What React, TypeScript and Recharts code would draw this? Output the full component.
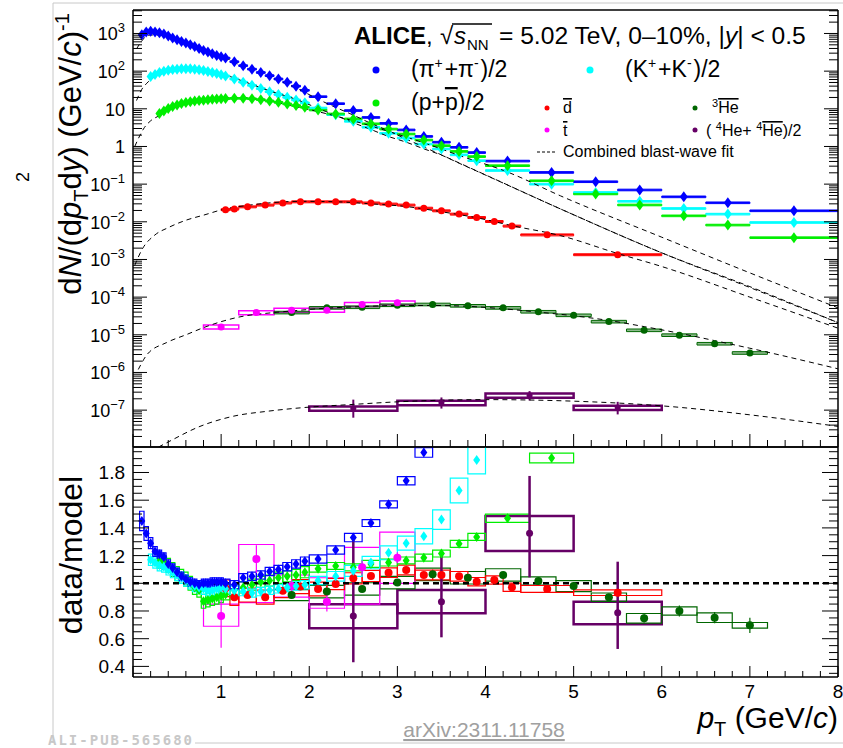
import React from 'react';
import { ComposedChart, Scatter, Line, XAxis, YAxis, ErrorBar, ReferenceArea, ReferenceLine } from 'recharts';

const FONT = '"Liberation Sans", Arial, Helvetica, sans-serif';
const C_PI = '#0000ff';
const C_K = '#00ffff';
const C_P = '#00ee00';
const C_D = '#ff0000';
const C_T = '#ff00ff';
const C_HE3 = '#006600';
const C_HE4 = '#660066';

// ---------------- spectra (top panel) ----------------
const piPt = [0.10,0.15,0.20,0.25,0.30,0.35,0.40,0.45,0.50,0.55,0.60,0.65,0.70,0.75,0.80,0.85,0.90,0.95,1.00,1.05,1.15,1.25,1.35,1.45,1.55,1.65,1.75,1.85,1.95,2.1,2.3,2.5,2.7,2.9,3.1,3.3,3.5,3.7,3.9,4.25,4.75,5.25,5.75,6.25,6.75,7.5];
const piYield = [920,1100,1140,1100,1040,970,860,760,680,615,560,500,450,400,355,320,290,262,240,222,178,140,113,92,76,62,51,40,31,21,13.7,9.0,5.9,4.1,2.75,1.85,1.3,0.95,0.69,0.41,0.205,0.116,0.07,0.046,0.032,0.0196];
const piRatio = [1.45,1.36,1.29,1.23,1.21,1.19,1.14,1.11,1.08,1.05,1.03,1.01,1.00,0.99,1.00,1.00,1.01,1.01,1.01,1.00,0.99,1.04,1.05,1.06,1.085,1.10,1.12,1.14,1.16,1.175,1.24,1.33,1.435,1.57,1.74,1.945];
const piRatioSys = [0.07,0.05,0.04,0.035,0.03,0.03,0.03,0.03,0.03,0.03,0.03,0.03,0.03,0.03,0.03,0.03,0.03,0.03,0.03,0.03,0.03,0.03,0.03,0.03,0.03,0.03,0.03,0.03,0.03,0.03,0.03,0.03,0.025,0.025,0.03,0.035];

const kPt = [0.20,0.25,0.30,0.35,0.40,0.45,0.50,0.55,0.60,0.65,0.70,0.75,0.80,0.85,0.90,0.95,1.00,1.05,1.15,1.25,1.35,1.45,1.55,1.65,1.75,1.85,1.95,2.1,2.3,2.5,2.7,2.9,3.1,3.3,3.5,3.7,3.9,4.25,4.75,5.25,5.75,6.25,6.75,7.5];
const kYield = [72,82,92,100,106,110,113,115,116,115,113,109,104,98,92,86,80,74,62,51,42,34.5,28.5,24,20.2,17.2,14.4,10.5,7.0,4.65,3.24,2.24,1.68,1.16,0.86,0.6,0.42,0.23,0.1,0.06,0.035,0.0226,0.016,0.0096];
const kRatio = [1.17,1.15,1.13,1.12,1.10,1.08,1.06,1.04,1.02,1.00,0.98,0.97,0.96,0.95,0.95,0.96,0.97,0.96,0.95,0.94,0.93,0.94,0.95,0.96,0.97,0.98,0.99,1.02,1.05,1.09,1.15,1.22,1.29,1.34,1.46,1.67,1.89];
const kRatioSys = [0.04,0.04,0.04,0.04,0.04,0.04,0.04,0.04,0.04,0.04,0.04,0.04,0.04,0.04,0.04,0.04,0.04,0.03,0.03,0.03,0.03,0.03,0.03,0.03,0.03,0.03,0.03,0.03,0.035,0.04,0.045,0.05,0.05,0.055,0.07,0.09,0.1];

const pPt = [0.30,0.35,0.40,0.45,0.50,0.55,0.60,0.65,0.70,0.75,0.80,0.85,0.90,0.95,1.00,1.05,1.15,1.25,1.35,1.45,1.55,1.65,1.75,1.85,1.95,2.1,2.3,2.5,2.7,2.9,3.1,3.3,3.5,3.7,3.9,4.25,4.75,5.25,5.75,6.25,6.75,7.5];
const pYield = [7.5,8.7,10.2,11.5,12.7,13.8,14.7,15.4,16.0,16.5,17.0,17.4,17.8,18.1,18.4,18.7,19.0,19.0,18.5,17.5,16.1,14.9,13.5,12.2,11.0,9.3,7.3,5.4,4.0,2.9,2.14,1.48,1.05,0.74,0.54,0.31,0.123,0.055,0.028,0.0144,0.0082,0.0038];
const pRatio = [1.16,1.15,1.13,1.10,1.07,1.05,1.03,1.00,0.97,0.95,0.87,0.88,0.89,0.90,0.91,0.92,0.95,0.97,0.99,1.01,1.02,1.04,1.05,1.06,1.08,1.105,1.125,1.115,1.14,1.15,1.165,1.185,1.215,1.285,1.335,1.47,1.905];
const pRatioSys = [0.05,0.05,0.05,0.05,0.05,0.05,0.05,0.05,0.05,0.05,0.05,0.05,0.05,0.05,0.05,0.04,0.04,0.04,0.04,0.04,0.04,0.04,0.04,0.04,0.04,0.025,0.025,0.025,0.025,0.025,0.025,0.025,0.025,0.025,0.025,0.03,0.035];

const dPt = [1.05,1.15,1.3,1.5,1.7,1.9,2.1,2.3,2.5,2.7,2.9,3.1,3.3,3.5,3.7,3.9,4.1,4.3,4.7,5.5];
const dHalf = [0.05,0.05,0.1,0.1,0.1,0.1,0.1,0.1,0.1,0.1,0.1,0.1,0.1,0.1,0.1,0.1,0.1,0.1,0.3,0.5];
const dYield = [0.021,0.0218,0.025,0.0278,0.0316,0.034,0.034,0.034,0.034,0.0316,0.0296,0.0278,0.023,0.0196,0.016,0.013,0.0102,0.0077,0.0045,0.00134];
const dRatio = [0.964,0.90,0.915,0.90,0.947,0.976,0.959,0.995,1.036,1.053,1.077,1.096,1.06,1.06,1.05,1.012,1.024,0.971,0.959,0.932];
const dRatioSys = [0.06,0.06,0.05,0.05,0.05,0.05,0.05,0.04,0.04,0.04,0.035,0.035,0.035,0.035,0.035,0.03,0.03,0.03,0.025,0.02];

const tPt = [1.0,1.4,1.8,2.2,2.6,3.0];
const tYield = [1.62e-5,3.9e-5,4.5e-5,4.5e-5,6.4e-5,7.1e-5];
const tRatio = [0.764,1.175,0.98,0.867,1.115,1.185];
const tRatioStat = [0.23,0.1,0.05,0.07,0.05,0.04];
const tBoxLo = [0.69,0.86,0.9,0.82,0.85,1.0];
const tBoxHi = [0.85,1.28,1.06,1.04,1.26,1.37];

const he3Pt = [1.8,2.2,2.6,3.0,3.4,3.8,4.2,4.6,5.0,5.4,5.8,6.2,6.6,7.0];
const he3Yield = [3.9e-5,5.2e-5,5.4e-5,6.1e-5,6.4e-5,5.9e-5,5.2e-5,4.1e-5,3.3e-5,2.24e-5,1.32e-5,9.8e-6,5.8e-6,3.3e-6];
const he3Ratio = [0.915,0.94,0.959,1.005,1.065,1.04,1.06,1.017,0.98,0.90,0.747,0.80,0.752,0.697];
const he3RatioSys = [0.04,0.045,0.045,0.045,0.045,0.045,0.045,0.03,0.04,0.03,0.035,0.03,0.035,0.02];
const he3RatioStat = [0.015,0.015,0.015,0.015,0.015,0.015,0.02,0.02,0.025,0.025,0.03,0.04,0.04,0.055];

const he4Pt = [2.5,3.5,4.5,5.5];
const he4Yield = [1.11e-7,1.56e-7,2.46e-7,1.15e-7];
const he4YieldLo = [6.3e-8,1.1e-7,1.8e-7,7.7e-8];
const he4YieldHi = [1.9e-7,2.17e-7,3.2e-7,1.66e-7];
const he4Ratio = [0.764,0.867,1.361,0.788];
const he4RatioLo = [0.43,0.61,1.043,0.526];
const he4RatioHi = [1.33,1.23,1.775,1.156];
const he4BoxLo = [0.675,0.783,1.233,0.704];
const he4BoxHi = [0.848,0.952,1.486,0.867];

// ---------------- combined blast-wave fit curves ----------------
const piFitPt = [0.04,0.1,0.17,0.25,0.34,0.45,0.57,0.68,0.8,0.91,1.06,1.25,1.55,1.86,2.1,2.3,2.5,2.7,2.9,3.1,3.3,4.0,4.85,6.0,7.0,8.0];
const piFit = [390,634,900,915,870,695,567,460,353,288,220,131,70,35,18,10.9,6.8,4.1,2.6,1.57,0.97,0.176,0.022,0.0015,1.8e-4,2.1e-5];
const kFitPt = [0.04,0.1,0.15,0.21,0.3,0.42,0.55,0.68,0.8,0.91,1.02,1.25,1.55,1.86,2.1,2.3,2.5,2.7,2.9,3.1,3.3,3.5,3.7,3.9,4.85,6.0,7.0,8.0];
const kFit = [16.6,33,46,62,81,96,108,114,108,97,83,54,30,17.5,10.3,6.67,4.27,2.82,1.84,1.30,0.866,0.59,0.36,0.222,0.022,0.0015,1.9e-4,2.1e-5];
const pFitPt = [0.02,0.13,0.2,0.3,0.42,0.53,0.76,0.98,1.21,1.46,1.8,2.1,2.5,2.9,3.3,3.7,4.25,4.85,6.0,7.0,8.0];
const pFit = [1.0,3.2,4.8,6.6,9.6,12.3,16.5,19.5,19.8,17.5,12.0,8.4,4.8,2.5,1.25,0.58,0.21,0.049,0.0039,4.4e-4,5.2e-5];
const dFitPt = [0.02,0.1,0.25,0.4,0.6,0.8,1.04,1.3,1.5,1.9,2.3,2.7,3.1,3.5,3.9,4.3,4.85,5.5,6.0,7.0,8.0];
const dFit = [7e-4,1.8e-3,4.5e-3,7e-3,0.011,0.015,0.0218,0.0273,0.031,0.035,0.034,0.030,0.0254,0.0185,0.0128,0.0079,0.0043,0.00144,6.5e-4,1.0e-4,1.5e-5];
const he3FitPt = [0.06,0.16,0.38,0.61,0.8,1.2,1.6,1.8,2.2,2.6,3.0,3.4,3.8,4.2,4.6,5.0,5.4,5.8,6.2,6.6,7.0,8.0];
const he3Fit = [1.2e-6,3e-6,6.2e-6,1.02e-5,1.55e-5,2.95e-5,3.9e-5,4.3e-5,5.1e-5,5.6e-5,6.0e-5,6.0e-5,5.7e-5,4.9e-5,4.0e-5,3.2e-5,2.4e-5,1.65e-5,1.1e-5,7e-6,4.4e-6,1.25e-6];
const he4FitPt = [0.29,0.38,0.76,1.14,1.52,1.9,2.5,3.0,4.0,5.0,6.0,7.0,8.0];
const he4Fit = [1.05e-8,1.35e-8,3.7e-8,6.9e-8,9.3e-8,1.15e-7,1.42e-7,1.66e-7,1.9e-7,1.73e-7,1.3e-7,7.5e-8,3.7e-8];

// ---------------- axes ----------------
const TOP_DOMAIN: [number, number] = [1.05e-8, 4.2e3];
const RATIO_DOMAIN: [number, number] = [0.3235, 1.984];
const xTicks = Array.from({ length: 41 }, (_, i) => Math.round(i * 2) / 10);
const logTicks: number[] = [];
for (let e = -8; e <= 3; e++) for (let m = 1; m <= 9; m++) { const v = m * Math.pow(10, e); if (v >= TOP_DOMAIN[0] && v <= TOP_DOMAIN[1]) logTicks.push(v); }
const ratioTicks = Array.from({ length: 33 }, (_, i) => Math.round(35 + i * 5) / 100);

// bin half-widths of the light-flavour hadron bins
const lfHalf = (pt: number) => (pt <= 1.0 ? 0.025 : pt < 2 ? 0.05 : pt < 4 ? 0.1 : pt < 7 ? 0.25 : 0.5);

const AX = { stroke: '#000', strokeWidth: 1.5 };

const isDecade = (v: number) => { const e = Math.round(Math.log10(v)); return Math.abs(v / Math.pow(10, e) - 1) < 1e-6; };
const isMajorR = (v: number) => Math.abs(v * 5 - Math.round(v * 5)) < 1e-6;
const isInt = (v: number) => Math.abs(v - Math.round(v)) < 1e-6;

function LeftLogTick(p: any) {
  const { x, y, payload } = p;
  const v = payload.value as number;
  const major = isDecade(v);
  const e = Math.round(Math.log10(v));
  const len = major ? 14 : 9;
  let label: any = null;
  if (major && e >= -7) {
    const tx = x - 8, ty = y + 7;
    if (e === 0) label = <text x={tx} y={ty} textAnchor="end" fontSize={18} fontFamily={FONT}>1</text>;
    else if (e === 1) label = <text x={tx} y={ty} textAnchor="end" fontSize={18} fontFamily={FONT}>10</text>;
    else label = (
      <text x={tx} y={ty} textAnchor="end" fontSize={18} fontFamily={FONT}>10<tspan dy={-8} fontSize={13}>{e < 0 ? '\u2212' + (-e) : String(e)}</tspan></text>
    );
  }
  return <g><line x1={x} y1={y} x2={x + len} y2={y} stroke="#000" strokeWidth={1} />{label}</g>;
}
function RightLogTick(p: any) {
  const { x, y, payload } = p;
  const len = isDecade(payload.value) ? 14 : 9;
  return <line x1={x} y1={y} x2={x - len} y2={y} stroke="#000" strokeWidth={1} />;
}
function LeftRatioTick(p: any) {
  const { x, y, payload } = p;
  const v = payload.value as number;
  const major = isMajorR(v);
  return (
    <g>
      <line x1={x} y1={y} x2={x + (major ? 16 : 9)} y2={y} stroke="#000" strokeWidth={1} />
      {major ? <text x={x - 8} y={y + 7} textAnchor="end" fontSize={19} fontFamily={FONT}>{Math.abs(v - 1) < 1e-6 ? '1' : v.toFixed(1)}</text> : null}
    </g>
  );
}
function RightRatioTick(p: any) {
  const { x, y, payload } = p;
  return <line x1={x} y1={y} x2={x - (isMajorR(payload.value) ? 16 : 9)} y2={y} stroke="#000" strokeWidth={1} />;
}
function makeBottomTick(major: number, minor: number, labels: boolean) {
  return (p: any) => {
    const { x, y, payload } = p;
    const v = payload.value as number;
    const mj = isInt(v);
    return (
      <g>
        <line x1={x} y1={y} x2={x} y2={y - (mj ? major : minor)} stroke="#000" strokeWidth={1} />
        {labels && mj && v > 0 ? <text x={x} y={y + 21} textAnchor="middle" fontSize={19} fontFamily={FONT}>{String(Math.round(v))}</text> : null}
      </g>
    );
  };
}
function makeTopTick(major: number, minor: number) {
  return (p: any) => {
    const { x, y, payload } = p;
    const mj = isInt(payload.value);
    return <line x1={x} y1={y} x2={x} y2={y + (mj ? major : minor)} stroke="#000" strokeWidth={1} />;
  };
}

const diamond = (color: string, hw: number, hh: number) => (props: any) => {
  const { cx, cy } = props;
  if (cx == null || cy == null || !isFinite(cx) || !isFinite(cy)) return <g />;
  return <path d={`M${cx},${cy - hh}L${cx + hw},${cy}L${cx},${cy + hh}L${cx - hw},${cy}Z`} fill={color} />;
};
const dot = (color: string, r: number) => (props: any) => {
  const { cx, cy } = props;
  if (cx == null || cy == null || !isFinite(cx) || !isFinite(cy)) return <g />;
  return <circle cx={cx} cy={cy} r={r} fill={color} />;
};

const toLine = (xs: number[], ys: number[]) => xs.map((x, i) => ({ x, y: ys[i] }));

// top-panel datasets
const piTop = piPt.map((x, i) => ({ x, y: piYield[i], ex: lfHalf(x) }));
const kTop = kPt.map((x, i) => ({ x, y: kYield[i], ex: lfHalf(x) }));
const pTop = pPt.map((x, i) => ({ x, y: pYield[i], ex: lfHalf(x) }));
const dTop = dPt.map((x, i) => ({ x, y: dYield[i], ex: dHalf[i] }));
const tTop = tPt.map((x, i) => ({ x, y: tYield[i], ey: tYield[i] * 0.15 }));
const he3Top = he3Pt.map((x, i) => ({ x, y: he3Yield[i] }));
const he4Top = he4Pt.map((x, i) => ({ x, y: he4Yield[i], ey: [he4Yield[i] - he4YieldLo[i], he4YieldHi[i] - he4Yield[i]] }));

// ratio-panel datasets
const piR = piRatio.map((r, i) => ({ x: piPt[i], y: r }));
const kR = kRatio.map((r, i) => ({ x: kPt[i], y: r }));
const pR = pRatio.map((r, i) => ({ x: pPt[i], y: r }));
const dR = dRatio.map((r, i) => ({ x: dPt[i], y: r, ey: 0.012 }));
const tR = tRatio.map((r, i) => ({ x: tPt[i], y: r, ey: tRatioStat[i] }));
const he3R = he3Ratio.map((r, i) => ({ x: he3Pt[i], y: r, ey: he3RatioStat[i] }));
const he4R = he4Ratio.map((r, i) => ({ x: he4Pt[i], y: r, ey: [r - he4RatioLo[i], he4RatioHi[i] - r] }));

type Box = { x1: number; x2: number; y1: number; y2: number; stroke: string; sw: number; fill?: string; fo?: number };
const topBoxes: Box[] = [
  ...piPt.map((x, i) => ({ x1: x - lfHalf(x), x2: x + lfHalf(x), y1: piYield[i] * 0.95, y2: piYield[i] * 1.05, stroke: C_PI, sw: 1 })),
  ...kPt.map((x, i) => ({ x1: x - lfHalf(x), x2: x + lfHalf(x), y1: kYield[i] * 0.95, y2: kYield[i] * 1.05, stroke: C_K, sw: 1 })),
  ...pPt.map((x, i) => ({ x1: x - lfHalf(x), x2: x + lfHalf(x), y1: pYield[i] * 0.95, y2: pYield[i] * 1.05, stroke: C_P, sw: 1 })),
  ...dPt.map((x, i) => ({ x1: x - dHalf[i], x2: x + dHalf[i], y1: dYield[i] * 0.94, y2: dYield[i] * 1.06, stroke: C_D, sw: 1 })),
  ...tPt.map((x, i) => ({ x1: x - 0.2, x2: x + 0.2, y1: tYield[i] * 0.88, y2: tYield[i] * 1.12, stroke: C_T, sw: 1.5 })),
  ...he3Pt.map((x, i) => ({ x1: x - 0.2, x2: x + 0.2, y1: he3Yield[i] * 0.92, y2: he3Yield[i] * 1.08, stroke: C_HE3, sw: 1, fill: C_HE3, fo: 0.45 })),
  ...he4Pt.map((x, i) => ({ x1: x - 0.5, x2: x + 0.5, y1: he4Yield[i] * 0.87, y2: he4Yield[i] * 1.13, stroke: C_HE4, sw: 2.5 })),
];
const ratioBoxes: Box[] = [
  ...he4Pt.map((x, i) => ({ x1: x - 0.5, x2: x + 0.5, y1: he4BoxLo[i], y2: he4BoxHi[i], stroke: C_HE4, sw: 2.5 })),
  ...he3Pt.map((x, i) => ({ x1: x - 0.2, x2: x + 0.2, y1: he3Ratio[i] - he3RatioSys[i], y2: he3Ratio[i] + he3RatioSys[i], stroke: C_HE3, sw: 1.2 })),
  ...tPt.map((x, i) => ({ x1: x - 0.2, x2: x + 0.2, y1: tBoxLo[i], y2: tBoxHi[i], stroke: C_T, sw: 1.2 })),
  ...dPt.map((x, i) => ({ x1: x - dHalf[i], x2: x + dHalf[i], y1: dRatio[i] - dRatioSys[i], y2: dRatio[i] + dRatioSys[i], stroke: C_D, sw: 1.2 })),
  ...pRatio.map((r, i) => ({ x1: pPt[i] - lfHalf(pPt[i]), x2: pPt[i] + lfHalf(pPt[i]), y1: r - pRatioSys[i], y2: r + pRatioSys[i], stroke: C_P, sw: 1.2 })),
  ...kRatio.map((r, i) => ({ x1: kPt[i] - lfHalf(kPt[i]), x2: kPt[i] + lfHalf(kPt[i]), y1: r - kRatioSys[i], y2: r + kRatioSys[i], stroke: C_K, sw: 1.2 })),
  ...piRatio.map((r, i) => ({ x1: piPt[i] - lfHalf(piPt[i]), x2: piPt[i] + lfHalf(piPt[i]), y1: r - piRatioSys[i], y2: r + piRatioSys[i], stroke: C_PI, sw: 1.2 })),
];

const renderBoxes = (boxes: Box[], prefix: string) =>
  boxes.map((b, i) => (
    <ReferenceArea key={prefix + i} x1={b.x1} x2={b.x2} y1={b.y1} y2={b.y2} ifOverflow="hidden"
      stroke={b.stroke} strokeWidth={b.sw} fill={b.fill || 'none'} fillOpacity={b.fo ?? 0} />
  ));

const fits = [
  toLine(piFitPt, piFit), toLine(kFitPt, kFit), toLine(pFitPt, pFit),
  toLine(dFitPt, dFit), toLine(he3FitPt, he3Fit), toLine(he4FitPt, he4Fit),
];

function TopChart() {
  return (
    <ComposedChart width={843} height={448} margin={{ top: 9, right: 4, bottom: 0, left: 132 }}>
      <XAxis dataKey="x" type="number" domain={[0, 8]} ticks={xTicks} interval={0} allowDataOverflow height={1}
        tickSize={0} tickMargin={0} tickLine={false} axisLine={AX} tick={makeBottomTick(13, 7, false)} />
      <XAxis xAxisId="t" orientation="top" type="number" domain={[0, 8]} ticks={xTicks} interval={0} allowDataOverflow height={1}
        tickSize={0} tickMargin={0} tickLine={false} axisLine={AX} tick={makeTopTick(13, 7)} />
      <YAxis dataKey="y" scale="log" type="number" domain={TOP_DOMAIN} ticks={logTicks} interval={0} allowDataOverflow width={1}
        tickSize={0} tickMargin={0} tickLine={false} axisLine={AX} tick={LeftLogTick} />
      <YAxis yAxisId="r" orientation="right" scale="log" type="number" domain={TOP_DOMAIN} ticks={logTicks} interval={0} allowDataOverflow width={1}
        tickSize={0} tickMargin={0} tickLine={false} axisLine={AX} tick={RightLogTick} />
      {renderBoxes(topBoxes, 'tb')}
      <Scatter data={piTop} dataKey="y" shape={diamond(C_PI, 4, 5.5)} isAnimationActive={false}>
        <ErrorBar dataKey="ex" direction="x" width={0} stroke={C_PI} strokeWidth={1.5} />
      </Scatter>
      <Scatter data={kTop} dataKey="y" shape={diamond(C_K, 4, 5.5)} isAnimationActive={false}>
        <ErrorBar dataKey="ex" direction="x" width={0} stroke={C_K} strokeWidth={1.5} />
      </Scatter>
      <Scatter data={pTop} dataKey="y" shape={diamond(C_P, 4, 5.5)} isAnimationActive={false}>
        <ErrorBar dataKey="ex" direction="x" width={0} stroke={C_P} strokeWidth={1.5} />
      </Scatter>
      <Scatter data={dTop} dataKey="y" shape={dot(C_D, 3.5)} isAnimationActive={false}>
        <ErrorBar dataKey="ex" direction="x" width={0} stroke={C_D} strokeWidth={1.5} />
      </Scatter>
      <Scatter data={he3Top} dataKey="y" shape={dot(C_HE3, 3.5)} isAnimationActive={false} />
      <Scatter data={tTop} dataKey="y" shape={dot(C_T, 3.5)} isAnimationActive={false}>
        <ErrorBar dataKey="ey" direction="y" width={0} stroke={C_T} strokeWidth={1.2} />
      </Scatter>
      <Scatter data={he4Top} dataKey="y" shape={dot(C_HE4, 3)} isAnimationActive={false}>
        <ErrorBar dataKey="ey" direction="y" width={0} stroke={C_HE4} strokeWidth={2} />
      </Scatter>
      {fits.map((f, i) => (
        <Line key={'f' + i} data={f} dataKey="y" type="monotone" stroke="#000" strokeWidth={1} strokeDasharray="5 4"
          dot={false} activeDot={false} isAnimationActive={false} />
      ))}
    </ComposedChart>
  );
}

function RatioChart() {
  return (
    <ComposedChart width={843} height={302} margin={{ top: 0, right: 4, bottom: 70, left: 132 }}>
      <XAxis dataKey="x" type="number" domain={[0, 8]} ticks={xTicks} interval={0} allowDataOverflow height={1}
        tickSize={0} tickMargin={0} tickLine={false} axisLine={AX} tick={makeBottomTick(11, 6, true)} />
      <XAxis xAxisId="t" orientation="top" type="number" domain={[0, 8]} ticks={xTicks} interval={0} allowDataOverflow height={1}
        tickSize={0} tickMargin={0} tickLine={false} axisLine={AX} tick={makeTopTick(11, 6)} />
      <YAxis dataKey="y" type="number" domain={RATIO_DOMAIN} ticks={ratioTicks} interval={0} allowDataOverflow width={1}
        tickSize={0} tickMargin={0} tickLine={false} axisLine={AX} tick={LeftRatioTick} />
      <YAxis yAxisId="r" orientation="right" type="number" domain={RATIO_DOMAIN} ticks={ratioTicks} interval={0} allowDataOverflow width={1}
        tickSize={0} tickMargin={0} tickLine={false} axisLine={AX} tick={RightRatioTick} />
      {renderBoxes(ratioBoxes, 'rb')}
      <ReferenceLine y={1} stroke="#000" strokeWidth={2.5} strokeDasharray="6 4" />
      <Scatter data={he4R} dataKey="y" shape={dot(C_HE4, 3.5)} isAnimationActive={false}>
        <ErrorBar dataKey="ey" direction="y" width={0} stroke={C_HE4} strokeWidth={2.5} />
      </Scatter>
      <Scatter data={tR} dataKey="y" shape={dot(C_T, 4)} isAnimationActive={false}>
        <ErrorBar dataKey="ey" direction="y" width={0} stroke={C_T} strokeWidth={1.2} />
      </Scatter>
      <Scatter data={he3R} dataKey="y" shape={dot(C_HE3, 4)} isAnimationActive={false}>
        <ErrorBar dataKey="ey" direction="y" width={0} stroke={C_HE3} strokeWidth={1.2} />
      </Scatter>
      <Scatter data={dR} dataKey="y" shape={dot(C_D, 4)} isAnimationActive={false} />
      <Scatter data={pR} dataKey="y" shape={diamond(C_P, 3.5, 5)} isAnimationActive={false} />
      <Scatter data={kR} dataKey="y" shape={diamond(C_K, 3.5, 5)} isAnimationActive={false} />
      <Scatter data={piR} dataKey="y" shape={diamond(C_PI, 3.5, 5)} isAnimationActive={false} />
    </ComposedChart>
  );
}

const Sup = ({ children, s = 14, d = 9 }: any) => (<><tspan dy={-d} fontSize={s}>{children}</tspan><tspan dy={d}>{'\u200A'}</tspan></>);

function Overlay() {
  return (
    <svg width={843} height={748} style={{ position: 'absolute', left: 0, top: 0, pointerEvents: 'none' }} fontFamily={FONT}>
      {/* page frame */}
      <line x1={53} y1={3} x2={843} y2={3} stroke="#c8c8c8" strokeWidth={1} />
      <line x1={53} y1={3} x2={53} y2={743} stroke="#c8c8c8" strokeWidth={1} />
      <line x1={195} y1={743} x2={843} y2={743} stroke="#c8c8c8" strokeWidth={1} />
      <text x={48} y={745} fontSize={14} fontWeight="bold" fill="#c8c8c8" letterSpacing={2} fontFamily='"DejaVu Sans Mono", monospace'>ALI-PUB-565680</text>
      <text x={484} y={737} fontSize={21} fill="#a0a0a0" textAnchor="middle" style={{ textDecoration: 'underline' }}>arXiv:2311.11758</text>

      {/* axis titles */}
      <text transform="translate(81,154) rotate(-90)" textAnchor="middle" fontSize={31}>
        d<tspan fontStyle="italic">N</tspan>/(d<tspan fontStyle="italic">p</tspan><tspan dy={7} fontSize={20}>T</tspan><tspan dy={-7}>d</tspan><tspan fontStyle="italic">y</tspan>) (GeV/<tspan fontStyle="italic">c</tspan>)<tspan dy={-12} fontSize={20}>-1</tspan>
      </text>
      <text transform="translate(29,177) rotate(-90)" textAnchor="middle" fontSize={18}>2</text>
      <text transform="translate(82,555) rotate(-90)" textAnchor="middle" fontSize={32}>data/model</text>
      <text x={838} y={728} textAnchor="end" fontSize={30}>
        <tspan fontStyle="italic">p</tspan><tspan dy={8} fontSize={20}>T</tspan><tspan dy={-8}> (GeV/</tspan><tspan fontStyle="italic">c</tspan>)
      </text>

      {/* header */}
      <text x={354} y={44} fontSize={24} fontWeight="bold">ALICE</text>
      <text x={426} y={44} fontSize={24}>,</text>
      <text x={440} y={44} fontSize={24}>{'\u221A'}</text>
      <line x1={452} y1={24} x2={492} y2={24} stroke="#000" strokeWidth={1.3} />
      <text x={454} y={44} fontSize={24} fontStyle="italic">s</text>
      <text x={467} y={50} fontSize={15}>NN</text>
      <text x={499} y={44} fontSize={24.6}>= 5.02 TeV, 0–10%, |<tspan fontStyle="italic">y</tspan>| &lt; 0.5</text>

      {/* big legend */}
      <circle cx={376} cy={70} r={3.5} fill={C_PI} />
      <text x={411} y={77} fontSize={23}>(π<Sup>+</Sup>+π<Sup>-</Sup>)/2</text>
      <circle cx={590} cy={70} r={3.5} fill={C_K} />
      <text x={625} y={77} fontSize={23}>(K<Sup>+</Sup>+K<Sup>-</Sup>)/2</text>
      <circle cx={376} cy={103} r={3.5} fill={C_P} />
      <text x={411} y={110} fontSize={23}>(p+<tspan style={{ textDecoration: 'overline' }}>p</tspan>)/2</text>

      {/* small legend */}
      <circle cx={547} cy={108} r={2.5} fill={C_D} />
      <text x={563} y={113} fontSize={16}><tspan style={{ textDecoration: 'overline' }}>d</tspan></text>
      <circle cx={695} cy={108} r={2.5} fill={C_HE3} />
      <text x={712} y={113} fontSize={16}><tspan dy={-6} fontSize={11}>3</tspan><tspan dy={6} style={{ textDecoration: 'overline' }}>He</tspan></text>
      <circle cx={547} cy={130} r={2.5} fill={C_T} />
      <text x={563} y={136} fontSize={16}><tspan style={{ textDecoration: 'overline' }}>t</tspan></text>
      <circle cx={695} cy={130} r={2.5} fill={C_HE4} />
      <text x={706} y={136} fontSize={16}>( <tspan dy={-6} fontSize={11}>4</tspan><tspan dy={6}>He+ </tspan><tspan dy={-6} fontSize={11}>4</tspan><tspan dy={6} style={{ textDecoration: 'overline' }}>He</tspan>)/2</text>
      <line x1={537} y1={152} x2={557} y2={152} stroke="#000" strokeWidth={1} strokeDasharray="3 2" />
      <text x={563} y={157} fontSize={16}>Combined blast-wave fit</text>
    </svg>
  );
}

export default function App() {
  return (
    <div style={{ position: 'absolute', left: 0, top: 0, width: 843, height: 748, background: '#fff', overflow: 'hidden', fontFamily: FONT }}>
      <div style={{ position: 'absolute', left: 0, top: 0 }}><TopChart /></div>
      <div style={{ position: 'absolute', left: 0, top: 446 }}><RatioChart /></div>
      <Overlay />
    </div>
  );
}
